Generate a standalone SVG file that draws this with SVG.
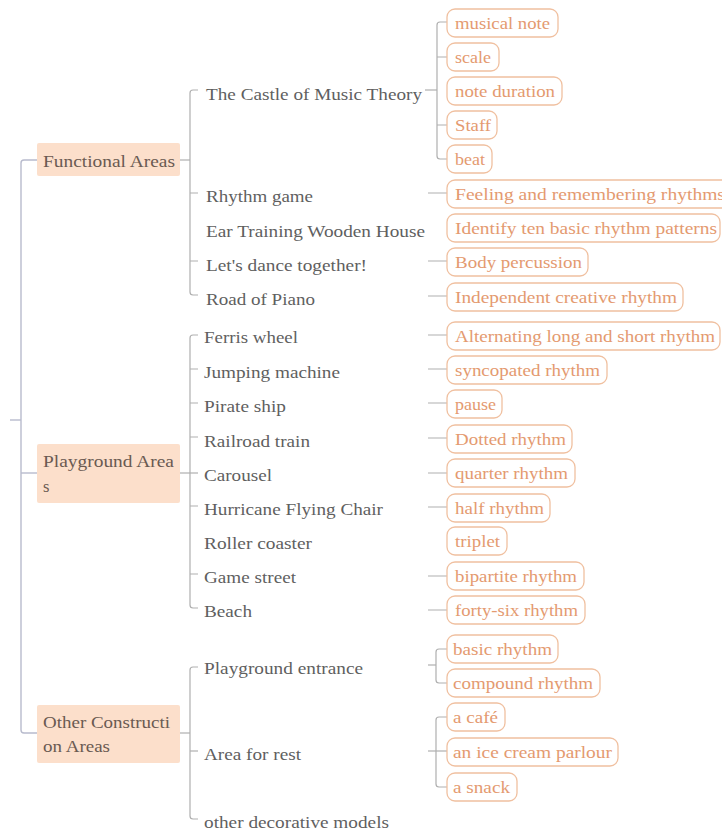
<svg xmlns="http://www.w3.org/2000/svg" width="722" height="831" viewBox="0 0 722 831">
<style>
text{font-family:"Liberation Serif","DejaVu Serif","Noto Serif","Times New Roman",serif;font-size:16.5px}
.l1box{fill:#FCDFCB;stroke:none}
.l1{fill:#6a5a52}
.l2{fill:#5f5f5f}
.l3box{fill:#ffffff;stroke:#F0C0A0;stroke-width:1.3}
.l3{fill:#E49A70}
.root{fill:none;stroke:#B8BBCD;stroke-width:1.4}
.ln{fill:none;stroke:#AFAFAF;stroke-width:1.2}
</style>
<rect width="722" height="831" fill="#ffffff"/>
<g id="connectors">
<path class="root" d="M10 420H21"/>
<path class="root" d="M37 160H24Q21 160 21 163V730Q21 733 24 733H37"/>
<path class="root" d="M21 473H37"/>
<path class="ln" d="M180 160H190"/>
<path class="ln" d="M198 90H193Q190 90 190 93V292Q190 295 193 295H198"/>
<path class="ln" d="M190 193H198M190 261H198"/>
<path class="ln" d="M425 90H437"/>
<path class="ln" d="M447 22H440Q437 22 437 25V156Q437 159 440 159H447"/>
<path class="ln" d="M437 57H447M437 125H447"/>
<path class="ln" d="M428 193H447M428 261H447M428 296H447"/>
<path class="ln" d="M180 473H198"/>
<path class="ln" d="M198 335H193Q190 335 190 338V605Q190 608 193 608H198"/>
<path class="ln" d="M190 369H198M190 403H198M190 437H198M190 506H198M190 574H198"/>
<path class="ln" d="M428 335H447M428 369H447M428 403H447M428 438H447M428 473H447M428 507H447M428 576H447M428 610H447"/>
<path class="ln" d="M180 733H190"/>
<path class="ln" d="M198 667H193Q190 667 190 670V816Q190 819 193 819H198"/>
<path class="ln" d="M190 751H198"/>
<path class="ln" d="M428 665H436"/>
<path class="ln" d="M447 649H439Q436 649 436 652V680Q436 683 439 683H447"/>
<path class="ln" d="M428 751H447"/>
<path class="ln" d="M447 717H439Q436 717 436 720V784Q436 787 439 787H447"/>
</g>
<g id="functional-areas"><rect class="l1box" x="37" y="143" width="143" height="33" rx="2"/><text class="l1" x="43" y="167" textLength="132" lengthAdjust="spacingAndGlyphs">Functional Areas</text></g>
<g id="playground-areas"><rect class="l1box" x="37" y="444" width="143" height="59" rx="2"/><text class="l1" x="43" y="467" textLength="131" lengthAdjust="spacingAndGlyphs">Playground Area</text><text class="l1" x="43" y="492">s</text></g>
<g id="other-construction-areas"><rect class="l1box" x="37" y="705" width="143" height="58" rx="2"/><text class="l1" x="43" y="728" textLength="127" lengthAdjust="spacingAndGlyphs">Other Constructi</text><text class="l1" x="43" y="752" textLength="67" lengthAdjust="spacingAndGlyphs">on Areas</text></g>

<g id="castle"><text class="l2" x="206" y="100" textLength="216" lengthAdjust="spacingAndGlyphs">The Castle of Music Theory</text></g>
<g id="rhythm-game"><text class="l2" x="206" y="202" textLength="107" lengthAdjust="spacingAndGlyphs">Rhythm game</text></g>
<g id="ear-training"><text class="l2" x="206" y="237" textLength="219" lengthAdjust="spacingAndGlyphs">Ear Training Wooden House</text></g>
<g id="lets-dance"><text class="l2" x="206" y="271" textLength="161" lengthAdjust="spacingAndGlyphs">Let's dance together!</text></g>
<g id="road-of-piano"><text class="l2" x="206" y="305" textLength="109" lengthAdjust="spacingAndGlyphs">Road of Piano</text></g>

<g id="ferris-wheel"><text class="l2" x="204" y="343" textLength="94" lengthAdjust="spacingAndGlyphs">Ferris wheel</text></g>
<g id="jumping-machine"><text class="l2" x="204" y="378" textLength="136" lengthAdjust="spacingAndGlyphs">Jumping machine</text></g>
<g id="pirate-ship"><text class="l2" x="204" y="412" textLength="82" lengthAdjust="spacingAndGlyphs">Pirate ship</text></g>
<g id="railroad-train"><text class="l2" x="204" y="447" textLength="106" lengthAdjust="spacingAndGlyphs">Railroad train</text></g>
<g id="carousel"><text class="l2" x="204" y="481" textLength="68" lengthAdjust="spacingAndGlyphs">Carousel</text></g>
<g id="hurricane"><text class="l2" x="204" y="515" textLength="179" lengthAdjust="spacingAndGlyphs">Hurricane Flying Chair</text></g>
<g id="roller-coaster"><text class="l2" x="204" y="549" textLength="108" lengthAdjust="spacingAndGlyphs">Roller coaster</text></g>
<g id="game-street"><text class="l2" x="204" y="583" textLength="92" lengthAdjust="spacingAndGlyphs">Game street</text></g>
<g id="beach"><text class="l2" x="204" y="617" textLength="48" lengthAdjust="spacingAndGlyphs">Beach</text></g>

<g id="playground-entrance"><text class="l2" x="204" y="674" textLength="159" lengthAdjust="spacingAndGlyphs">Playground entrance</text></g>
<g id="area-for-rest"><text class="l2" x="204" y="760" textLength="97" lengthAdjust="spacingAndGlyphs">Area for rest</text></g>
<g id="decorative-models"><text class="l2" x="204" y="828" textLength="185" lengthAdjust="spacingAndGlyphs">other decorative models</text></g>

<g id="musical-note"><rect class="l3box" x="447" y="9" width="111" height="28" rx="8"/><text class="l3" x="455" y="29" textLength="95" lengthAdjust="spacingAndGlyphs">musical note</text></g>
<g id="scale"><rect class="l3box" x="447" y="43" width="52" height="28" rx="8"/><text class="l3" x="455" y="63" textLength="36" lengthAdjust="spacingAndGlyphs">scale</text></g>
<g id="note-duration"><rect class="l3box" x="447" y="77" width="115" height="28" rx="8"/><text class="l3" x="455" y="97" textLength="100" lengthAdjust="spacingAndGlyphs">note duration</text></g>
<g id="staff"><rect class="l3box" x="447" y="111" width="50" height="28" rx="8"/><text class="l3" x="455" y="131" textLength="36" lengthAdjust="spacingAndGlyphs">Staff</text></g>
<g id="beat"><rect class="l3box" x="447" y="145" width="45" height="28" rx="8"/><text class="l3" x="455" y="165" textLength="30" lengthAdjust="spacingAndGlyphs">beat</text></g>
<g id="feeling"><rect class="l3box" x="447" y="180" width="285" height="28" rx="8"/><text class="l3" x="455" y="200" textLength="270" lengthAdjust="spacingAndGlyphs">Feeling and remembering rhythms</text></g>
<g id="identify"><rect class="l3box" x="447" y="214" width="273" height="28" rx="8"/><text class="l3" x="455" y="234" textLength="262" lengthAdjust="spacingAndGlyphs">Identify ten basic rhythm patterns</text></g>
<g id="body-percussion"><rect class="l3box" x="447" y="248" width="141" height="28" rx="8"/><text class="l3" x="455" y="268" textLength="127" lengthAdjust="spacingAndGlyphs">Body percussion</text></g>
<g id="independent"><rect class="l3box" x="447" y="283" width="236" height="28" rx="8"/><text class="l3" x="455" y="303" textLength="222" lengthAdjust="spacingAndGlyphs">Independent creative rhythm</text></g>

<g id="alternating"><rect class="l3box" x="447" y="322" width="273" height="28" rx="8"/><text class="l3" x="455" y="342" textLength="260" lengthAdjust="spacingAndGlyphs">Alternating long and short rhythm</text></g>
<g id="syncopated"><rect class="l3box" x="447" y="356" width="160" height="28" rx="8"/><text class="l3" x="455" y="376" textLength="145" lengthAdjust="spacingAndGlyphs">syncopated rhythm</text></g>
<g id="pause"><rect class="l3box" x="447" y="390" width="55" height="28" rx="8"/><text class="l3" x="455" y="410" textLength="41" lengthAdjust="spacingAndGlyphs">pause</text></g>
<g id="dotted"><rect class="l3box" x="447" y="425" width="125" height="28" rx="8"/><text class="l3" x="455" y="445" textLength="111" lengthAdjust="spacingAndGlyphs">Dotted rhythm</text></g>
<g id="quarter"><rect class="l3box" x="447" y="459" width="128" height="28" rx="8"/><text class="l3" x="455" y="479" textLength="113" lengthAdjust="spacingAndGlyphs">quarter rhythm</text></g>
<g id="half"><rect class="l3box" x="447" y="494" width="103" height="28" rx="8"/><text class="l3" x="455" y="514" textLength="89" lengthAdjust="spacingAndGlyphs">half rhythm</text></g>
<g id="triplet"><rect class="l3box" x="447" y="527" width="60" height="28" rx="8"/><text class="l3" x="455" y="547" textLength="45" lengthAdjust="spacingAndGlyphs">triplet</text></g>
<g id="bipartite"><rect class="l3box" x="447" y="562" width="137" height="28" rx="8"/><text class="l3" x="455" y="582" textLength="122" lengthAdjust="spacingAndGlyphs">bipartite rhythm</text></g>
<g id="forty-six"><rect class="l3box" x="447" y="596" width="138" height="28" rx="8"/><text class="l3" x="455" y="616" textLength="123" lengthAdjust="spacingAndGlyphs">forty-six rhythm</text></g>

<g id="basic-rhythm"><rect class="l3box" x="447" y="635" width="111" height="28" rx="8"/><text class="l3" x="453" y="655" textLength="99" lengthAdjust="spacingAndGlyphs">basic rhythm</text></g>
<g id="compound-rhythm"><rect class="l3box" x="447" y="669" width="153" height="28" rx="8"/><text class="l3" x="453" y="689" textLength="140" lengthAdjust="spacingAndGlyphs">compound rhythm</text></g>
<g id="cafe"><rect class="l3box" x="447" y="703" width="58" height="28" rx="8"/><text class="l3" x="453" y="723" textLength="45" lengthAdjust="spacingAndGlyphs">a café</text></g>
<g id="ice-cream"><rect class="l3box" x="447" y="738" width="171" height="28" rx="8"/><text class="l3" x="453" y="758" textLength="159" lengthAdjust="spacingAndGlyphs">an ice cream parlour</text></g>
<g id="snack"><rect class="l3box" x="447" y="773" width="70" height="28" rx="8"/><text class="l3" x="453" y="793" textLength="57" lengthAdjust="spacingAndGlyphs">a snack</text></g>
</svg>
